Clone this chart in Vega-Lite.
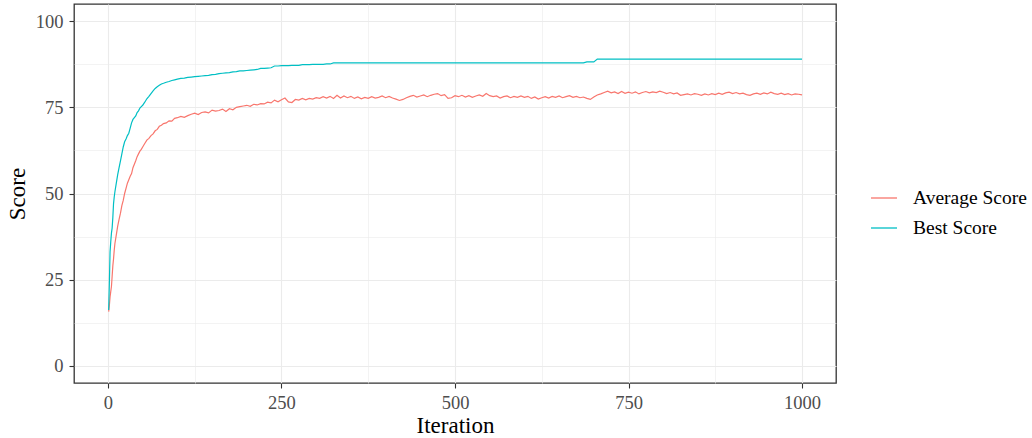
{
  "$schema": "https://vega.github.io/schema/vega-lite/v6.json",
  "width": 762,
  "height": 379,
  "autosize": "none",
  "padding": {"left": 74, "top": 4, "right": 196, "bottom": 55},
  "background": "white",
  "data": {
    "values": [
      {"i":1,"avg":15.7,"best":16.2},{"i":2,"avg":17.5,"best":24},{"i":3,"avg":20,"best":33},{"i":4,"avg":21.5,"best":36},
      {"i":5,"avg":23,"best":38.5},{"i":6,"avg":26,"best":40},{"i":7,"avg":29,"best":43},{"i":8,"avg":31,"best":47},
      {"i":9,"avg":33.5,"best":49},{"i":10,"avg":35.5,"best":50.5},{"i":12,"avg":38,"best":53},{"i":14,"avg":40.5,"best":55.5},
      {"i":16,"avg":42.5,"best":57.5},{"i":18,"avg":44.3,"best":59.5},{"i":20,"avg":46.5,"best":61.5},{"i":22,"avg":48,"best":63.5},
      {"i":24,"avg":50,"best":65},{"i":26,"avg":51.5,"best":65.8},{"i":28,"avg":53,"best":66.8},{"i":30,"avg":54,"best":67.5},
      {"i":32,"avg":55,"best":69},{"i":34,"avg":55.8,"best":70.5},{"i":36,"avg":57.5,"best":71.5},{"i":38,"avg":58.5,"best":72},
      {"i":40,"avg":59.5,"best":72.5},{"i":42,"avg":60.7,"best":73.5},{"i":44,"avg":61.5,"best":74},{"i":46,"avg":62.3,"best":74.8},
      {"i":48,"avg":62.8,"best":75.2},{"i":50,"avg":63.5,"best":75.6},{"i":53,"avg":64.5,"best":76.5},{"i":56,"avg":65.5,"best":77.5},
      {"i":59,"avg":66,"best":78.2},{"i":62,"avg":66.8,"best":79},{"i":65,"avg":67.3,"best":79.8},{"i":68,"avg":68.2,"best":80.5},
      {"i":71,"avg":68.6,"best":81},{"i":74,"avg":69.5,"best":81.4},{"i":77,"avg":69.8,"best":81.8},{"i":80,"avg":70.3,"best":82},
      {"i":84,"avg":70.5,"best":82.3},{"i":88,"avg":71.1,"best":82.5},{"i":92,"avg":71,"best":82.8},{"i":96,"avg":71.8,"best":83},
      {"i":100,"avg":72,"best":83.2},{"i":105,"avg":72.4,"best":83.4},{"i":110,"avg":72.1,"best":83.5},{"i":115,"avg":72.6,"best":83.7},
      {"i":120,"avg":73,"best":83.8},{"i":125,"avg":73.3,"best":83.9},{"i":130,"avg":72.9,"best":84},{"i":135,"avg":73.5,"best":84.1},
      {"i":140,"avg":73.7,"best":84.2},{"i":145,"avg":73.4,"best":84.3},{"i":150,"avg":74.2,"best":84.5},{"i":155,"avg":73.9,"best":84.6},
      {"i":160,"avg":74.1,"best":84.8},{"i":165,"avg":74.5,"best":84.9},{"i":170,"avg":73.8,"best":85},{"i":175,"avg":74.6,"best":85.1},
      {"i":180,"avg":74.3,"best":85.3},{"i":185,"avg":75,"best":85.4},{"i":190,"avg":75.2,"best":85.6},{"i":195,"avg":75.4,"best":85.6},
      {"i":200,"avg":75.6,"best":85.7},{"i":205,"avg":75.3,"best":85.8},{"i":210,"avg":75.9,"best":85.9},{"i":215,"avg":75.7,"best":86},
      {"i":220,"avg":76.1,"best":86.3},{"i":225,"avg":76,"best":86.3},{"i":230,"avg":76.5,"best":86.4},{"i":235,"avg":76.3,"best":86.5},
      {"i":240,"avg":77.1,"best":87},{"i":245,"avg":76.6,"best":87},{"i":250,"avg":77.2,"best":87.1},{"i":255,"avg":77.7,"best":87.1},
      {"i":260,"avg":76.6,"best":87.1},{"i":265,"avg":76.4,"best":87.2},{"i":270,"avg":77.3,"best":87.2},{"i":275,"avg":77.1,"best":87.2},
      {"i":280,"avg":77.6,"best":87.4},{"i":285,"avg":77.2,"best":87.4},{"i":290,"avg":77.6,"best":87.4},{"i":295,"avg":77.4,"best":87.5},
      {"i":300,"avg":77.8,"best":87.5},{"i":305,"avg":77.6,"best":87.5},{"i":310,"avg":78.1,"best":87.5},{"i":315,"avg":77.7,"best":87.6},
      {"i":320,"avg":78.2,"best":87.6},{"i":325,"avg":77.6,"best":87.9},{"i":330,"avg":78.5,"best":87.9},{"i":335,"avg":77.7,"best":87.9},
      {"i":340,"avg":78.3,"best":87.9},{"i":345,"avg":77.8,"best":87.9},{"i":350,"avg":78.2,"best":87.9},{"i":355,"avg":77.6,"best":87.9},
      {"i":360,"avg":78,"best":87.9},{"i":365,"avg":77.5,"best":87.9},{"i":370,"avg":77.9,"best":87.9},{"i":375,"avg":77.6,"best":87.9},
      {"i":380,"avg":78.1,"best":87.9},{"i":385,"avg":77.7,"best":87.9},{"i":390,"avg":77.9,"best":87.9},{"i":395,"avg":78.3,"best":87.9},
      {"i":400,"avg":77.8,"best":87.9},{"i":405,"avg":78.2,"best":87.9},{"i":410,"avg":77.7,"best":87.9},{"i":415,"avg":77.4,"best":87.9},
      {"i":420,"avg":77,"best":87.9},{"i":425,"avg":77.3,"best":87.9},{"i":430,"avg":77.8,"best":87.9},{"i":435,"avg":78.2,"best":87.9},
      {"i":440,"avg":78.5,"best":87.9},{"i":445,"avg":78,"best":87.9},{"i":450,"avg":78.3,"best":87.9},{"i":455,"avg":78.6,"best":87.9},
      {"i":460,"avg":78.1,"best":87.9},{"i":465,"avg":78.5,"best":87.9},{"i":470,"avg":78.8,"best":87.9},{"i":475,"avg":79,"best":87.9},
      {"i":480,"avg":78.4,"best":87.9},{"i":485,"avg":78.7,"best":87.9},{"i":490,"avg":77.6,"best":87.9},{"i":495,"avg":77.8,"best":87.9},
      {"i":500,"avg":78.4,"best":87.9},{"i":505,"avg":78.1,"best":87.9},{"i":510,"avg":78.5,"best":87.9},{"i":515,"avg":78,"best":87.9},
      {"i":520,"avg":78.4,"best":87.9},{"i":525,"avg":77.9,"best":87.9},{"i":530,"avg":78.3,"best":87.9},{"i":535,"avg":78.6,"best":87.9},
      {"i":540,"avg":78.2,"best":87.9},{"i":545,"avg":79,"best":87.9},{"i":550,"avg":78.4,"best":87.9},{"i":555,"avg":78.1,"best":87.9},
      {"i":560,"avg":78.3,"best":87.9},{"i":565,"avg":77.7,"best":87.9},{"i":570,"avg":78.1,"best":87.9},{"i":575,"avg":78.3,"best":87.9},
      {"i":580,"avg":77.8,"best":87.9},{"i":585,"avg":78.2,"best":87.9},{"i":590,"avg":77.9,"best":87.9},{"i":595,"avg":78.3,"best":87.9},
      {"i":600,"avg":77.9,"best":87.9},{"i":605,"avg":78.2,"best":87.9},{"i":610,"avg":77.6,"best":87.9},{"i":615,"avg":78,"best":87.9},
      {"i":620,"avg":77.4,"best":87.9},{"i":625,"avg":77.8,"best":87.9},{"i":630,"avg":78.1,"best":87.9},{"i":635,"avg":77.7,"best":87.9},
      {"i":640,"avg":78.2,"best":87.9},{"i":645,"avg":77.9,"best":87.9},{"i":650,"avg":78.3,"best":87.9},{"i":655,"avg":77.8,"best":87.9},
      {"i":660,"avg":78.1,"best":87.9},{"i":665,"avg":78.4,"best":87.9},{"i":670,"avg":77.9,"best":87.9},{"i":675,"avg":78.2,"best":87.9},
      {"i":680,"avg":77.8,"best":87.9},{"i":685,"avg":78,"best":87.9},{"i":690,"avg":77.6,"best":88.2},{"i":695,"avg":77.3,"best":88.2},
      {"i":700,"avg":78,"best":88.2},{"i":705,"avg":78.6,"best":89},{"i":710,"avg":78.9,"best":89},{"i":715,"avg":79.3,"best":89},
      {"i":720,"avg":79.7,"best":89},{"i":725,"avg":79.2,"best":89},{"i":730,"avg":79.5,"best":89},{"i":735,"avg":79,"best":89},
      {"i":740,"avg":79.6,"best":89},{"i":745,"avg":79.1,"best":89},{"i":750,"avg":79.4,"best":89},{"i":755,"avg":79.1,"best":89},
      {"i":760,"avg":79.5,"best":89},{"i":765,"avg":78.9,"best":89},{"i":770,"avg":79.3,"best":89},{"i":775,"avg":79.6,"best":89},
      {"i":780,"avg":79.2,"best":89},{"i":785,"avg":79.5,"best":89},{"i":790,"avg":79.3,"best":89},{"i":795,"avg":79.7,"best":89},
      {"i":800,"avg":79.4,"best":89},{"i":805,"avg":79,"best":89},{"i":810,"avg":79.3,"best":89},{"i":815,"avg":78.9,"best":89},
      {"i":820,"avg":79.2,"best":89},{"i":825,"avg":78.5,"best":89},{"i":830,"avg":78.7,"best":89},{"i":835,"avg":78.9,"best":89},
      {"i":840,"avg":78.6,"best":89},{"i":845,"avg":79,"best":89},{"i":850,"avg":78.8,"best":89},{"i":855,"avg":78.5,"best":89},
      {"i":860,"avg":78.9,"best":89},{"i":865,"avg":78.6,"best":89},{"i":870,"avg":79,"best":89},{"i":875,"avg":78.7,"best":89},
      {"i":880,"avg":79.1,"best":89},{"i":885,"avg":78.8,"best":89},{"i":890,"avg":79.2,"best":89},{"i":895,"avg":79.4,"best":89},
      {"i":900,"avg":79,"best":89},{"i":905,"avg":79.3,"best":89},{"i":910,"avg":78.9,"best":89},{"i":915,"avg":79.1,"best":89},
      {"i":920,"avg":78.7,"best":89},{"i":925,"avg":78.5,"best":89},{"i":930,"avg":78.9,"best":89},{"i":935,"avg":79.1,"best":89},
      {"i":940,"avg":78.8,"best":89},{"i":945,"avg":79.2,"best":89},{"i":950,"avg":78.9,"best":89},{"i":955,"avg":79.4,"best":89},
      {"i":960,"avg":79,"best":89},{"i":965,"avg":78.8,"best":89},{"i":970,"avg":79.1,"best":89},{"i":975,"avg":78.7,"best":89},
      {"i":980,"avg":79,"best":89},{"i":985,"avg":78.6,"best":89},{"i":990,"avg":78.9,"best":89},{"i":995,"avg":78.8,"best":89},
      {"i":1000,"avg":78.6,"best":89}
    ]
  },
  "transform": [{"fold": ["avg", "best"], "as": ["series", "score"]}],
  "mark": {"type": "line", "strokeWidth": 1.2, "clip": true},
  "encoding": {
    "x": {
      "field": "i", "type": "quantitative", "title": "Iteration",
      "scale": {"domain": [-48.95, 1048.95], "nice": false, "zero": false},
      "axis": {
        "values": [0, 125, 250, 375, 500, 625, 750, 875, 1000],
        "format": "d",
        "labelExpr": "datum.value % 250 === 0 ? datum.label : ''",
        "tickOpacity": {"condition": {"test": "datum.value % 250 !== 0", "value": 0}, "value": 1},
        "gridWidth": {"condition": {"test": "datum.value % 250 !== 0", "value": 0.6}, "value": 1.1},
        "labelPadding": 5,
        "titlePadding": 3
      }
    },
    "y": {
      "field": "score", "type": "quantitative", "title": "Score",
      "scale": {"domain": [-5, 105], "nice": false, "zero": false},
      "axis": {
        "values": [0, 12.5, 25, 37.5, 50, 62.5, 75, 87.5, 100],
        "labelExpr": "datum.value % 25 === 0 ? datum.label : ''",
        "tickOpacity": {"condition": {"test": "datum.value % 25 !== 0", "value": 0}, "value": 1},
        "gridWidth": {"condition": {"test": "datum.value % 25 !== 0", "value": 0.6}, "value": 1.1},
        "labelPadding": 6,
        "titlePadding": 6
      }
    },
    "color": {
      "field": "series", "type": "nominal",
      "scale": {"domain": ["avg", "best"], "range": ["#F8766D", "#00BFC4"]},
      "legend": {
        "title": null,
        "orient": "none",
        "legendX": 796,
        "legendY": 180,
        "labelExpr": "datum.label === 'avg' ? 'Average Score' : 'Best Score'",
        "symbolType": "stroke",
        "symbolSize": 676,
        "symbolStrokeWidth": 1.3,
        "labelOffset": 15,
        "rowPadding": 6,
        "padding": 0
      }
    }
  },
  "config": {
    "font": "Liberation Serif",
    "view": {"stroke": "#333333", "strokeWidth": 1.3},
    "axis": {
      "domain": false,
      "grid": true,
      "gridColor": "#EBEBEB",
      "tickColor": "#333333",
      "tickSize": 5,
      "tickWidth": 1.1,
      "labelFont": "Liberation Serif",
      "labelFontSize": 18.5,
      "labelColor": "#4D4D4D",
      "titleFont": "Liberation Serif",
      "titleFontSize": 23,
      "titleFontWeight": "normal",
      "titleColor": "#000000"
    },
    "legend": {
      "labelFont": "Liberation Serif",
      "labelFontSize": 19.5,
      "labelColor": "#000000"
    }
  }
}
